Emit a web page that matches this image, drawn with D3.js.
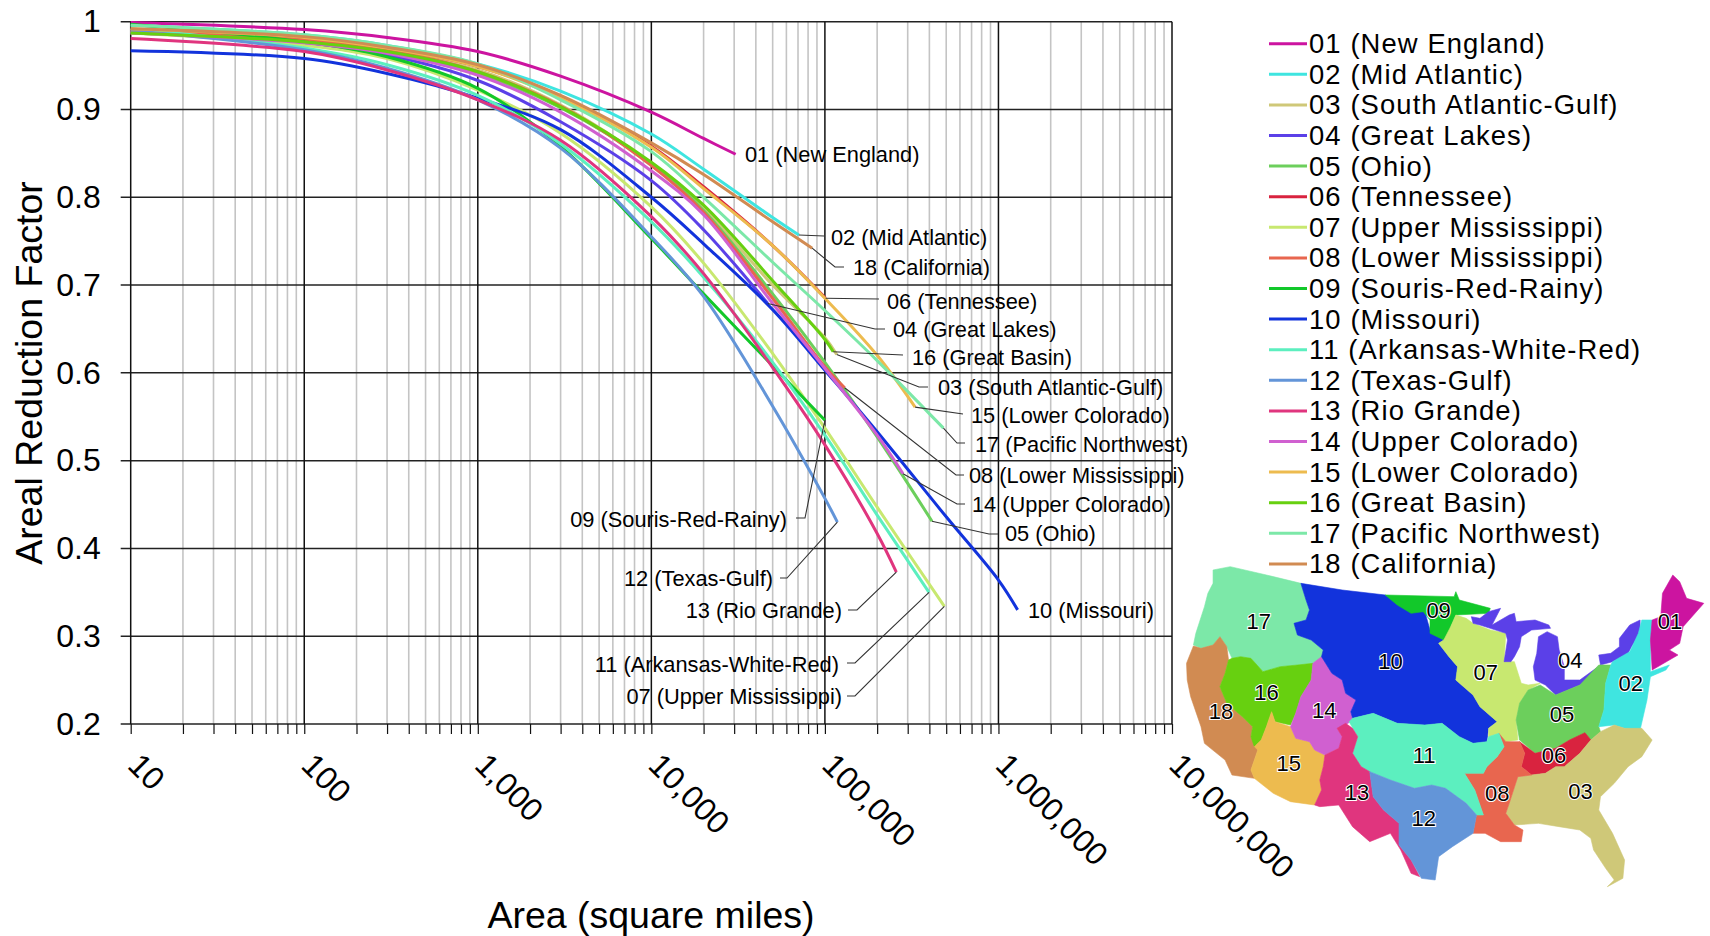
<!DOCTYPE html>
<html>
<head>
<meta charset="utf-8">
<script src="https://cdnjs.cloudflare.com/ajax/libs/d3/7.8.5/d3.min.js"></script>
<style>
html, body { margin: 0; padding: 0; background: #fff; }
text { font-family: "Liberation Sans", Arial, sans-serif; fill: #000; }
</style>
</head>
<body>
<svg id="viz" width="1710" height="936"></svg>
<script>
// Regions and colours

var regions = ["01 (New England)", "02 (Mid Atlantic)", "03 (South Atlantic-Gulf)", "04 (Great Lakes)",
	"05 (Ohio)", "06 (Tennessee)", "07 (Upper Mississippi)", "08 (Lower Mississippi)", "09 (Souris-Red-Rainy)",
	"10 (Missouri)", "11 (Arkansas-White-Red)", "12 (Texas-Gulf)", "13 (Rio Grande)", "14 (Upper Colorado)",
	"15 (Lower Colorado)", "16 (Great Basin)", "17 (Pacific Northwest)", "18 (California)"];

var colours = ["#cc14a0", "#3fe5e0", "#cfc878", "#5b40e8", "#6ccf5c", "#d9233f", "#c8e870", "#e8664f", "#12c82a",
	"#1233dc", "#5cefbf", "#6395d8", "#e0357e", "#d060d0", "#edbb4f", "#67d010", "#7ce8a8", "#d18b52"];

// Curve values, read at these areas

var areas = [10, 100, 300, 1000, 3000, 10000, 20000, 50000, 100000, 200000, 500000, 1000000];

var arf01 = [.999, .991, .982, .966, .938, .897, .867];
var arf02 = [.996, .985, .973, .952, .921, .872, .832, .777];
var arf03 = [.989, .978, .967, .945, .905, .838, .787, .700, .640];
var arf04 = [.989, .975, .962, .933, .886, .819, .763];
var arf05 = [.987, .977, .966, .941, .902, .838, .785, .690, .612, .527];
var arf06 = [.990, .981, .970, .949, .915, .858, .812, .745];
var arf07 = [.987, .973, .958, .922, .873, .789, .725, .622, .537, .447];
var arf08 = [.990, .979, .968, .943, .904, .836, .783, .685, .607];
var arf09 = [.997, .977, .960, .924, .858, .753, .690, .608];
var arf10 = [.967, .958, .941, .913, .877, .800, .747, .672, .603, .533, .436, .364];
var arf11 = [.992, .970, .951, .916, .861, .772, .709, .612, .529, .438];
var arf12 = [.990, .968, .947, .911, .856, .755, .687, .562, .457];
var arf13 = [.981, .966, .945, .911, .865, .778, .713, .606, .518, .417];
var arf14 = [.987, .976, .964, .939, .897, .830, .780, .679, .605, .529];
var arf15 = [.992, .982, .970, .949, .913, .857, .810, .745, .685, .620];
var arf16 = [.987, .977, .966, .943, .903, .840, .791, .705, .638];
var arf17 = [.996, .985, .973, .952, .911, .852, .800, .726, .671, .614];
var arf18 = [.992, .983, .971, .951, .916, .862, .826, .772];

var allArf = [arf01, arf02, arf03, arf04, arf05, arf06, arf07, arf08, arf09,
	arf10, arf11, arf12, arf13, arf14, arf15, arf16, arf17, arf18];

// Where each curve stops

var endArea = [30600, 70800, 117000, 46900, 414000, 101000, 488000, 130000, 100000,
	1290000, 398000, 118000, 258000, 282000, 331000, 111700, 482000, 84500];
var endArf = [.849, .757, .621, .679, .431, .685, .334, .583, .546,
	.330, .350, .430, .373, .485, .561, .624, .537, .742];

var yTicks = [.2, .3, .4, .5, .6, .7, .8, .9, 1];
var xMajor = [10, 100, 1000, 10000, 100000, 1000000, 10000000];

// Scales

var x = d3.scaleLog().domain([10, 10000000]).range([130.7, 1172]);
var y = d3.scaleLinear().domain([0.2, 1]).range([724, 21.7]);

var svg = d3.select("#viz");

// Grid and axes

var xMinor = [];
xMajor.slice(0, -1).forEach(function(d) {
	for (var k = 2; k < 10; k++) xMinor.push(d * k);
});

svg.append("g").attr("class", "minor-grid")
	.selectAll("line").data(xMinor).enter().append("line")
	.attr("x1", x).attr("x2", x)
	.attr("y1", y(1)).attr("y2", y(0.2))
	.attr("stroke", "#c4c4c4").attr("stroke-width", 1.6);

svg.append("g").attr("class", "h-grid")
	.selectAll("line").data(yTicks).enter().append("line")
	.attr("x1", x(10) - 10).attr("x2", x(10000000))
	.attr("y1", y).attr("y2", y)
	.attr("stroke", "#222").attr("stroke-width", 1.5);

svg.append("g").attr("class", "major-grid")
	.selectAll("line").data(xMajor).enter().append("line")
	.attr("x1", x).attr("x2", x)
	.attr("y1", y(1)).attr("y2", y(0.2))
	.attr("stroke", "#111").attr("stroke-width", 1.5);

var xAxis = d3.axisBottom(x)
	.tickValues(xMajor.concat(xMinor))
	.tickSize(10)
	.tickFormat(function(d) { return xMajor.indexOf(d) >= 0 ? d3.format(",")(d) : ""; });

var gx = svg.append("g").attr("transform", "translate(0," + y(0.2) + ")").call(xAxis);
gx.select(".domain").remove();
gx.selectAll("line").attr("stroke", "#111").attr("stroke-width", 1.2);
gx.selectAll("text")
	.attr("text-anchor", "start")
	.attr("dy", 0)
	.attr("y", 0)
	.attr("transform", "translate(-5,43) rotate(45)")
	.style("font-size", "32px");

var yAxis = d3.axisLeft(y)
	.tickValues(yTicks)
	.tickSize(10)
	.tickPadding(20)
	.tickFormat(function(d) { return d === 1 ? "1" : d3.format(".1f")(d); });

var gy = svg.append("g").attr("transform", "translate(" + x(10) + ",0)").call(yAxis);
gy.select(".domain").remove();
gy.selectAll("line").attr("stroke", "none");
gy.selectAll("text").style("font-size", "32px");

svg.append("text")
	.attr("transform", "translate(42,373) rotate(-90)")
	.attr("text-anchor", "middle")
	.style("font-size", "37.5px")
	.text("Areal Reduction Factor");

svg.append("text")
	.attr("x", 651).attr("y", 928)
	.attr("text-anchor", "middle")
	.style("font-size", "37.5px")
	.text("Area (square miles)");

// Curves

var line = d3.line()
	.x(function(d) { return x(d[0]); })
	.y(function(d) { return y(d[1]); })
	.curve(d3.curveCatmullRom.alpha(0.5));

var curvePoints = allArf.map(function(vals, i) {
	var pts = vals.map(function(v, j) { return [areas[j], v]; })
		.filter(function(p) { return p[0] < endArea[i]; });
	pts.push([endArea[i], endArf[i]]);
	return pts;
});

svg.append("g").attr("class", "curves")
	.selectAll("path").data(curvePoints).enter().append("path")
	.attr("d", line)
	.attr("fill", "none")
	.attr("stroke", function(d, i) { return colours[i]; })
	.attr("stroke-width", 3);

// Callouts: [region index, elbow points..., label x, label y, anchor]

var callouts = [
	[0, [], 745, 154, "start"],
	[1, [[824, 236]], 831, 237, "start"],
	[17, [[835, 267], [844, 267]], 853, 267, "start"],
	[5, [[879, 299]], 887, 301, "start"],
	[3, [[875, 329], [885, 329]], 893, 329, "start"],
	[15, [[903, 355]], 912, 357, "start"],
	[2, [[919, 387], [928, 387]], 938, 387, "start"],
	[14, [[963, 414]], 971, 415, "start"],
	[16, [[957, 443], [965, 443]], 975, 444, "start"],
	[7, [[956, 475], [964, 475]], 969, 475, "start"],
	[13, [[957, 504], [965, 504]], 972, 504, "start"],
	[4, [[989, 534], [998, 534]], 1005, 533, "start"],
	[9, [], 1028, 610, "start"],
	[8, [[805, 518], [796, 518]], 787, 519, "end"],
	[11, [[787, 578], [780, 578]], 773, 578, "end"],
	[12, [[857, 610], [848, 610]], 842, 610, "end"],
	[10, [[855, 663], [847, 663]], 839, 664, "end"],
	[6, [[855, 696], [847, 696]], 842, 696, "end"]
];

var leader = d3.line();

svg.append("g").attr("class", "leaders")
	.selectAll("path").data(callouts.filter(function(c) { return c[1].length; })).enter().append("path")
	.attr("d", function(c) {
		return leader([[x(endArea[c[0]]), y(endArf[c[0]])]].concat(c[1]));
	})
	.attr("fill", "none")
	.attr("stroke", "#333")
	.attr("stroke-width", 1.1);

svg.append("g").attr("class", "callout-labels")
	.selectAll("text").data(callouts).enter().append("text")
	.attr("x", function(c) { return c[2]; })
	.attr("y", function(c) { return c[3]; })
	.attr("dy", "0.35em")
	.attr("text-anchor", function(c) { return c[4]; })
	.style("font-size", "21.8px")
	.text(function(c) { return regions[c[0]]; });

// Legend

var legendY = d3.scalePoint().domain(regions).range([43.7, 563.9]);

var legend = svg.append("g").attr("class", "legend")
	.selectAll("g").data(regions).enter().append("g")
	.attr("transform", function(d) { return "translate(0," + legendY(d) + ")"; });

legend.append("line")
	.attr("x1", 1269).attr("x2", 1307)
	.attr("stroke", function(d, i) { return colours[i]; })
	.attr("stroke-width", 3);

legend.append("text")
	.attr("x", 1309)
	.attr("dy", "0.35em")
	.style("font-size", "27.4px")
	.style("letter-spacing", "1.1px")
	.text(function(d) { return d; });

// Basin map, outlines

var mapX = d3.scaleLinear().domain([0, 1568]).range([1170, 1710]);
var mapY = d3.scaleLinear().domain([0, 1080]).range([540, 900]);

var basins = [
	[16, [[125,90],[175,80],[280,105],[380,130],[395,180],[405,210],[395,240],[360,250],[370,285],[410,300],[445,330],[445,350],[415,370],[370,375],[320,380],[270,395],[235,355],[205,350],[180,355],[165,320],[145,290],[125,315],[90,325],[68,315],[75,280],[100,200],[110,160],[125,130]]],
	[17, [[68,318],[90,325],[125,315],[145,290],[165,320],[170,360],[160,400],[145,440],[165,490],[210,530],[240,560],[235,590],[255,630],[245,660],[235,690],[245,715],[180,705],[160,660],[100,610],[90,560],[60,470],[50,420],[48,370]]],
	[15, [[180,355],[205,350],[235,355],[270,395],[320,380],[370,375],[415,370],[410,420],[380,470],[365,520],[350,555],[305,545],[295,515],[280,560],[265,600],[245,620],[235,590],[240,560],[210,530],[165,490],[145,440],[160,400],[170,360]]],
	[14, [[295,515],[305,545],[350,560],[365,595],[405,605],[420,630],[450,645],[445,680],[435,720],[440,750],[420,795],[350,785],[300,760],[245,715],[235,690],[245,660],[255,630],[245,620],[265,600],[280,560]]],
	[13, [[440,350],[470,400],[500,420],[510,460],[540,480],[525,515],[530,540],[510,555],[485,565],[500,590],[490,625],[450,645],[420,630],[405,605],[365,595],[350,560],[365,520],[380,470],[410,420],[415,370]]],
	[9, [[380,130],[500,150],[625,165],[680,205],[740,215],[755,270],[795,300],[780,310],[810,350],[835,380],[830,420],[880,465],[900,500],[950,545],[925,565],[920,605],[880,610],[840,590],[790,550],[740,555],[660,550],[590,520],[530,535],[525,515],[540,480],[510,460],[500,420],[470,400],[440,350],[445,330],[410,300],[370,285],[360,250],[395,240],[405,210],[395,180]]],
	[8, [[625,165],[825,170],[830,155],[840,180],[930,205],[925,220],[830,225],[815,260],[805,295],[795,300],[755,280],[755,240],[735,215],[700,220],[660,195]]],
	[6, [[830,225],[860,235],[880,250],[930,270],[975,280],[970,365],[1000,365],[1020,430],[1040,435],[1075,430],[1040,450],[1015,490],[1005,540],[1010,600],[975,605],[955,580],[925,590],[925,565],[950,545],[900,500],[880,465],[830,420],[835,380],[810,350],[780,310],[795,300],[815,260]]],
	[3, [[875,230],[900,235],[925,215],[960,205],[945,235],[935,255],[985,225],[1000,220],[1005,245],[1060,240],[1100,255],[1105,265],[1050,270],[1020,290],[1015,320],[1000,350],[990,365],[970,365],[980,300],[975,280],[930,265],[900,255],[880,250]]],
	[3, [[1070,290],[1095,275],[1125,290],[1130,330],[1145,380],[1145,420],[1190,420],[1250,375],[1240,400],[1190,435],[1120,465],[1090,435],[1060,420],[1055,380],[1065,340]]],
	[3, [[1245,345],[1280,340],[1305,320],[1305,295],[1335,255],[1365,240],[1365,280],[1340,320],[1330,340],[1285,365],[1250,375]]],
	[4, [[1280,375],[1265,430],[1260,510],[1245,560],[1250,575],[1222,600],[1205,580],[1160,600],[1120,625],[1060,640],[1015,600],[1005,540],[1015,490],[1040,450],[1075,435],[1120,465],[1190,435],[1245,375]]],
	[5, [[1015,605],[1060,640],[1120,625],[1160,600],[1205,578],[1222,600],[1190,640],[1145,680],[1120,680],[1090,700],[1050,705],[1020,680],[1030,640]]],
	[1, [[1370,240],[1400,240],[1395,300],[1395,395],[1450,375],[1440,390],[1395,410],[1385,480],[1365,570],[1320,565],[1290,555],[1245,560],[1260,510],[1265,430],[1280,375],[1285,365],[1335,335],[1360,280]]],
	[0, [[1460,105],[1480,125],[1500,175],[1550,190],[1490,260],[1480,310],[1450,330],[1475,345],[1400,390],[1395,300],[1400,240],[1425,230],[1430,160]]],
	[2, [[1250,575],[1290,555],[1320,565],[1370,565],[1400,600],[1370,650],[1330,680],[1290,730],[1250,770],[1245,810],[1285,880],[1320,960],[1315,1015],[1270,1040],[1290,1020],[1265,985],[1230,930],[1222,895],[1190,870],[1130,860],[1070,850],[1000,855],[975,820],[985,790],[1010,710],[1050,705],[1090,700],[1120,680],[1145,680],[1190,640],[1222,600]]],
	[7, [[975,605],[1015,605],[1030,640],[1020,680],[1050,705],[1010,710],[985,790],[975,820],[1000,855],[1025,870],[1020,905],[960,905],[915,880],[880,880],[890,825],[910,825],[885,750],[855,700],[910,700],[920,680],[950,650],[970,620],[955,580]]],
	[10, [[530,535],[590,520],[660,550],[740,555],[790,550],[840,590],[880,610],[920,605],[925,590],[955,580],[970,620],[950,650],[920,680],[910,700],[855,700],[885,750],[910,825],[890,825],[860,790],[800,745],[760,735],[710,745],[640,720],[580,695],[555,680],[530,640],[545,590],[520,545]]],
	[12, [[510,550],[530,565],[545,590],[530,640],[555,680],[580,695],[590,770],[620,810],[665,850],[665,915],[700,960],[725,1010],[700,1000],[670,930],[640,880],[580,905],[530,860],[490,795],[435,800],[420,795],[440,750],[435,720],[445,680],[450,645],[490,625],[500,590],[485,565]]],
	[11, [[580,695],[640,720],[710,745],[760,735],[800,745],[860,790],[890,825],[880,880],[820,920],[780,950],[770,1020],[730,1015],[700,960],[665,915],[665,850],[620,810],[590,770]]]
];

var basinNames = ["01", "02", "03", "04", "05", "06", "07", "08", "09", "10", "11", "12", "13", "14", "15", "16", "17", "18"];
var basinLabelX = [1452, 1338, 1192, 1162, 1138, 1115, 917, 950, 780, 640, 738, 737, 543, 448, 345, 280, 258, 148];
var basinLabelY = [245, 430, 755, 362, 523, 647, 397, 760, 212, 365, 647, 835, 757, 512, 670, 458, 243, 513];

var outline = d3.line()
	.x(function(d) { return mapX(d[0]); })
	.y(function(d) { return mapY(d[1]); })
	.curve(d3.curveLinearClosed);

var map = svg.append("g").attr("class", "map");

map.selectAll("path").data(basins).enter().append("path")
	.attr("d", function(d) { return outline(d[1]); })
	.attr("fill", function(d) { return colours[d[0]]; })
	.attr("stroke", function(d) { return colours[d[0]]; })
	.attr("stroke-width", 0.6);

map.selectAll("text").data(basinNames).enter().append("text")
	.attr("x", function(d, i) { return mapX(basinLabelX[i]); })
	.attr("y", function(d, i) { return mapY(basinLabelY[i]); })
	.attr("dy", "0.35em")
	.attr("text-anchor", "middle")
	.style("font-size", "22px")
	.style("paint-order", "stroke")
	.style("stroke", "#fff")
	.style("stroke-width", "2px")
	.text(function(d) { return d; });
</script>
</body>
</html>
